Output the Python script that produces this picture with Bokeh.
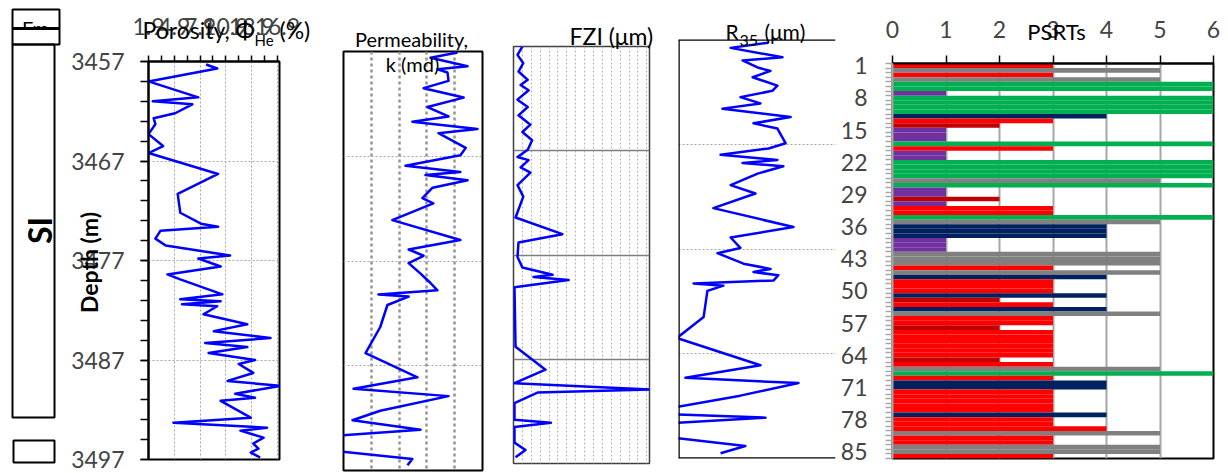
import math
from jinja2 import Template
from bokeh.plotting import figure
from bokeh.models import Range1d, FixedTicker, Span, ColumnDataSource
from bokeh.embed import file_html
from bokeh.resources import INLINE
from bokeh.core.properties import value

FONT = "Lato"
H = 473
W = 1228
BLUE = "#0000FF"

# ---------------- data ----------------
depth_ticks = [3457, 3467, 3477, 3487, 3497]
depth_grid = [3467, 3477, 3487]

poro_ticks = [1.9, 4.9, 7.9, 10.9, 13.9, 16.9]
poro_depth = [3457.3, 3457.7, 3459.0, 3460.6, 3461.0, 3461.3, 3462.2, 3462.7, 3463.3, 3464.3,
              3465.5, 3466.2, 3468.3, 3470.3, 3472.2, 3473.3, 3473.6, 3474.0, 3474.8, 3475.5,
              3476.5, 3476.8, 3477.6, 3478.4, 3478.9, 3480.4, 3480.9, 3481.1, 3481.4, 3481.6,
              3482.4, 3483.4, 3484.1, 3484.8, 3485.3, 3485.7, 3486.3, 3487.0, 3487.4, 3488.3,
              3489.1, 3489.6, 3490.4, 3490.8, 3491.1, 3492.8, 3493.3, 3493.8, 3494.1, 3494.8,
              3495.4, 3495.9, 3496.3, 3496.8]
poro_val = [8.6, 9.9, 1.9, 7.7, 2.4, 7.0, 5.0, 2.5, 2.7, 1.9,
            3.6, 1.9, 10.0, 5.3, 5.6, 8.0, 10.0, 3.3, 2.7, 3.9,
            11.4, 7.7, 10.3, 4.1, 5.6, 10.5, 5.6, 10.3, 5.8, 9.9,
            8.3, 13.4, 9.5, 16.1, 8.5, 13.4, 8.9, 14.3, 12.4, 14.1,
            11.1, 17.2, 12.0, 14.3, 10.3, 13.8, 4.8, 15.7, 12.6, 15.3,
            14.1, 14.7, 13.8, 14.9]

perm_grid = [0.01, 0.1, 1, 10]
perm_depth = [3457.1, 3457.6, 3458.4, 3458.7, 3459.0, 3459.8, 3460.5, 3461.4, 3462.3, 3463.2,
              3463.7, 3464.4, 3464.8, 3466.2, 3466.9, 3467.9, 3468.5, 3468.8, 3469.3, 3470.0,
              3471.0, 3471.5, 3473.1, 3475.0, 3475.9, 3476.5, 3477.2, 3478.2, 3479.1, 3479.8,
              3480.2, 3480.4, 3481.2, 3483.3, 3485.8, 3488.1, 3489.2, 3489.9, 3491.3, 3492.2,
              3493.1, 3493.7, 3495.1, 3495.9, 3496.5]
perm_val = [12.6, 1.35, 29, 2.4, 5.5, 6.0, 0.76, 21, 1.05, 6.0,
            0.30, 66, 2.6, 25, 16, 0.17, 16, 0.89, 29, 1.6,
            0.69, 1.7, 0.057, 16, 0.22, 0.76, 0.22, 0.59, 1.35, 2.4,
            0.018, 0.22, 0.038, 0.021, 0.0062, 0.46, 0.0023, 6.0, 0.021, 0.0021,
            0.59, 0.0004, 0.0004, 0.30, 0.20]

fzi_grid = [1, 2, 3, 4, 5, 6, 7, 8, 9, 10, 11, 12, 13, 14, 15]
fzi_depth = [3457.0, 3457.8, 3458.6, 3459.4, 3460.2, 3460.7, 3461.2, 3462.1, 3462.8, 3463.6,
             3464.5, 3465.2, 3466.0, 3466.9, 3467.6, 3467.9, 3468.6, 3469.1, 3470.3, 3471.4,
             3473.4, 3475.0, 3475.8, 3477.2, 3478.2, 3478.9, 3479.1, 3479.4, 3480.1, 3485.8,
             3488.0, 3489.3, 3489.9, 3490.2, 3491.2, 3492.8, 3493.1, 3493.5, 3495.0, 3495.7,
             3496.4]
fzi_val = [1.0, 0.45, 1.1, 0.56, 1.6, 0.8, 1.7, 0.45, 1.6, 0.56,
           1.9, 1.0, 2.1, 1.6, 0.45, 1.7, 0.8, 1.9, 0.45, 1.1,
           0.23, 5.5, 0.56, 0.45, 1.0, 4.4, 2.25, 6.2, 0.11, 0.23,
           3.6, 0.11, 15.4, 2.7, 0.11, 0.11, 4.2, 0.11, 0.11, 1.35,
           0.23]

r35_depth = [3457.3, 3457.8, 3458.7, 3459.0, 3459.7, 3460.0, 3460.6, 3461.4, 3461.9, 3462.5,
             3463.1, 3463.6, 3464.4, 3465.0, 3465.5, 3466.9, 3467.4, 3468.0, 3468.5, 3468.8,
             3469.1, 3469.8, 3470.9, 3471.7, 3473.1, 3474.9, 3475.9, 3476.9, 3477.4, 3478.4,
             3478.9, 3479.2, 3479.5, 3480.0, 3480.3, 3480.5, 3481.0, 3483.5, 3485.5, 3488.1,
             3489.3, 3489.8, 3491.0, 3492.1, 3492.8, 3493.1, 3493.6, 3495.0, 3495.8, 3496.5]
r35_val = [2.87, 1.66, 3.31, 2.04, 2.55, 2.93, 2.36, 3.15, 2.99, 1.97,
           2.61, 1.40, 3.57, 2.39, 3.15, 3.41, 2.87, 1.34, 3.15, 2.04,
           3.34, 2.52, 1.66, 2.45, 1.11, 3.66, 1.66, 1.97, 1.24, 2.07,
           2.93, 2.39, 3.18, 3.03, 0.48, 1.43, 0.92, 0.80, -0.05, 2.61,
           0.22, 3.82, 1.97, -0.1, -0.1, 2.77, -0.1, -0.2, 2.13, 1.34]

psrt_ticks = [0, 1, 2, 3, 4, 5, 6]
psrt_label_rows = [1, 8, 15, 22, 29, 36, 43, 50, 57, 64, 71, 78, 85]
psrt_values = [3, 5, 3, 5, 6, 6, 1, 6, 6, 6,
               6, 4, 3, 2, 1, 1, 1, 6, 3, 1,
               1, 6, 6, 6, 6, 5, 6, 1, 1, 2,
               1, 3, 3, 6, 5, 4, 4, 4, 1, 1,
               1, 5, 5, 5, 3, 5, 4, 3, 3, 3,
               4, 2, 3, 4, 5, 3, 3, 2, 3, 3,
               3, 3, 3, 3, 2, 3, 5, 6, 3, 4,
               4, 3, 3, 3, 3, 3, 4, 3, 3, 4,
               5, 3, 3, 5, 5, 3]
psrt_class = [3, 5, 3, 5, 6, 6, 1, 6, 6, 6,
              6, 4, 3, 2, 1, 1, 1, 6, 3, 1,
              1, 6, 6, 6, 6, 5, 6, 1, 1, 2,
              1, 3, 3, 6, 5, 4, 4, 4, 1, 1,
              1, 5, 5, 5, 3, 5, 4, 3, 3, 3,
              4, 2, 3, 4, 5, 3, 3, 2, 3, 3,
              3, 3, 3, 3, 2, 3, 5, 6, 3, 4,
              4, 3, 3, 3, 3, 3, 4, 3, 3, 3,
              5, 3, 3, 5, 5, 3]
class_colors = {1: "#7030A0", 2: "#C00000", 3: "#FF0000", 4: "#002060", 5: "#808080", 6: "#00B050"}


# ---------------- helpers ----------------
def base_fig(width, left, right, top, bottom, xr, yr, x_axis_type="linear", xloc=None, yloc=None):
    p = figure(width=width, height=H, x_range=xr, y_range=yr, x_axis_type=x_axis_type,
               x_axis_location=xloc, y_axis_location=yloc, toolbar_location=None,
               output_backend="svg", min_border_left=left, min_border_right=right,
               min_border_top=top, min_border_bottom=bottom)
    p.outline_line_color = None
    p.background_fill_color = "white"
    p.border_fill_color = "white"
    p.xgrid.visible = False
    p.ygrid.visible = False
    return p


def depth_hgrid(p, color="#a6a6a6", dash="2 2", width=1):
    p.ygrid.visible = True
    p.ygrid.ticker = FixedTicker(ticks=depth_grid)
    p.ygrid.grid_line_color = color
    p.ygrid.grid_line_dash = dash
    p.ygrid.grid_line_width = width


def yr():
    return Range1d(depth_ticks[-1], depth_ticks[0])


TICK_FONT = "23px"

# ---------------- panel: porosity (page x 0-320) ----------------
f2 = base_fig(320, 148, 41, 61, 14, Range1d(1.9, 17.15), yr(), xloc="above", yloc="left")
f2.outline_line_color = "black"
f2.outline_line_width = 2
xa = f2.xaxis[0]
xa.ticker = FixedTicker(ticks=poro_ticks,
                        minor_ticks=[(a + b) / 2 for a, b in zip(poro_ticks[:-1], poro_ticks[1:])])
xa.major_label_text_font = FONT
xa.major_label_text_font_size = TICK_FONT
xa.major_label_standoff = 21
xa.major_tick_out = 6
xa.major_tick_in = 0
xa.minor_tick_out = 6
xa.minor_tick_in = 0
xa.axis_line_width = 2
xa.major_tick_line_width = 1.5
xa.minor_tick_line_width = 1.5
ya = f2.yaxis[0]
ya.ticker = FixedTicker(ticks=depth_ticks,
                        minor_ticks=list(range(depth_ticks[0], depth_ticks[-1] + 1, 2)))
ya.major_label_text_font = FONT
ya.major_label_text_font_size = TICK_FONT
ya.major_label_standoff = 16
ya.major_tick_out = 8
ya.major_tick_in = 0
ya.minor_tick_out = 8
ya.minor_tick_in = 0
ya.axis_line_width = 2
ya.major_tick_line_width = 1.5
ya.minor_tick_line_width = 1.5
f2.xgrid.visible = True
f2.xgrid.ticker = FixedTicker(ticks=poro_ticks[1:])
f2.xgrid.grid_line_color = "#a6a6a6"
f2.xgrid.grid_line_dash = "2 2"
depth_hgrid(f2)
f2.line(poro_val, poro_depth, line_color=BLUE, line_width=2.5, line_join="round")

# ---------------- panel: permeability (page x 320-500) ----------------
f3 = base_fig(180, 23, 18, 51, 3, Range1d(0.001, 100), yr(), x_axis_type="log")
f3.outline_line_color = "black"
f3.outline_line_width = 2
f3.xgrid.visible = True
f3.xgrid.ticker = FixedTicker(ticks=perm_grid)
f3.xgrid.grid_line_color = "#959595"
f3.xgrid.grid_line_width = 2.5
f3.xgrid.grid_line_dash = "3 3"
depth_hgrid(f3)
f3.line(perm_val, perm_depth, line_color=BLUE, line_width=2.5, line_join="round")

# ---------------- panel: FZI (page x 500-665) ----------------
f4 = base_fig(165, 13, 16, 46, 10, Range1d(0, 15.3), yr())
f4.outline_line_color = "#404040"
f4.outline_line_width = 1.5
f4.xgrid.visible = True
f4.xgrid.ticker = FixedTicker(ticks=fzi_grid)
f4.xgrid.grid_line_color = "#b4b4b4"
f4.xgrid.grid_line_dash = "2 2"
depth_hgrid(f4, color="#808080", dash="solid", width=1.5)
f4.line(fzi_val, fzi_depth, line_color=BLUE, line_width=2.5, line_join="round")

# ---------------- panel: R35 (page x 665-837) ----------------
f5 = base_fig(172, 13, 2, 39, 15, Range1d(0, 5), yr())
depth_hgrid(f5)
f5.line(r35_val, r35_depth, line_color=BLUE, line_width=2.5, line_join="round")
for loc, dim in ((0, "height"), (depth_ticks[0], "width"), (depth_ticks[-1], "width")):
    f5.add_layout(Span(location=loc, dimension=dim, line_color="black", line_width=2.5))

# ---------------- panel: PSRTs (page x 837-1228) ----------------
n = len(psrt_values)
f6 = base_fig(391, 54, 15, 63, 15, Range1d(psrt_ticks[0], psrt_ticks[-1]), Range1d(n + 0.5, 0.5),
              xloc="above", yloc="left")
f6.outline_line_color = "black"
f6.outline_line_width = 2
src = ColumnDataSource(dict(row=list(range(1, n + 1)), val=psrt_values,
                            color=[class_colors[c] for c in psrt_class]))
f6.xgrid.visible = True
f6.xgrid.ticker = FixedTicker(ticks=psrt_ticks[1:-1])
f6.xgrid.grid_line_color = "#a6a6a6"
f6.xgrid.grid_line_width = 2
f6.hbar(y="row", left=0, right="val", height=1.0, fill_color="color", line_color=None, source=src)
xa6 = f6.xaxis[0]
xa6.ticker = FixedTicker(ticks=psrt_ticks)
xa6.major_label_text_font = FONT
xa6.major_label_text_font_size = TICK_FONT
xa6.major_label_standoff = 18
xa6.major_tick_out = 8
xa6.major_tick_in = 0
xa6.axis_line_width = 2
xa6.major_tick_line_width = 1.5
ya6 = f6.yaxis[0]
ya6.ticker = FixedTicker(ticks=psrt_label_rows, minor_ticks=[i + 0.5 for i in range(0, n + 1)])
ya6.major_label_text_font = FONT
ya6.major_label_text_font_size = TICK_FONT
ya6.major_label_standoff = 18
ya6.major_tick_out = 7
ya6.major_tick_in = 0
ya6.major_tick_line_color = None
ya6.minor_tick_out = 7
ya6.minor_tick_in = 0
ya6.minor_tick_line_color = "#a6a6a6"
ya6.minor_tick_line_width = 1.5
ya6.axis_line_color = "#a6a6a6"
ya6.axis_line_width = 2

# ---------------- overlay: formation column and panel titles (page pixels) ----------------
ov = figure(width=W, height=H, x_range=Range1d(0, W), y_range=Range1d(H, 0),
            x_axis_location=None, y_axis_location=None, toolbar_location=None,
            output_backend="svg", min_border=0)
ov.grid.visible = False
ov.outline_line_color = None
ov.background_fill_alpha = 0
ov.border_fill_alpha = 0


def otext(x, y, t, size, align="left", angle=0.0, bold=False):
    ov.text(x=[x], y=[y], text=[t], text_font=value(FONT), text_font_size=f"{size}px",
            text_align=align, text_baseline="middle", angle=angle,
            text_font_style="bold" if bold else "normal", text_color="black")


otext(35, 27, "Fm", 20, align="center")
ov.quad(left=[12], right=[59], top=[29.5], bottom=[44], fill_color="white", line_color=None)
ov.segment(x0=[12], y0=[28], x1=[59], y1=[28], line_color="black", line_width=3)
ov.quad(left=[12, 12, 13], right=[59, 54, 54], top=[9, 44, 440], bottom=[44, 417, 462],
        fill_color=None, line_color="black", line_width=2)
otext(39, 230, "SI", 32, align="center", angle=math.pi / 2, bold=True)

otext(88, 262, "Depth (m)", 23, align="center", angle=math.pi / 2, bold=True)
otext(142, 29.5, "Porosity, Φ", 23)
otext(254, 39, "He", 15)
otext(279, 29.5, "(%)", 23)
otext(411, 38.5, "Permeability,", 20, align="center")
otext(412, 63.5, "k (md)", 20, align="center")
otext(611, 35.5, "FZI (μm)", 23, align="center")
otext(725, 31, "R", 21)
otext(739, 39.5, "35", 16)
otext(764, 31, "(μm)", 21)
otext(1056, 30.5, "PSRTs", 22, align="center")

TEMPLATE = Template("""<!DOCTYPE html>
<html lang="en">
<head>
<meta charset="utf-8">
<title>Well log panels</title>
{{ bokeh_css }}
{{ bokeh_js }}
<style>html, body { margin: 0; padding: 0; overflow: hidden; background: white; }</style>
</head>
<body>
<div style="position: relative; width: 1228px; height: 473px;">
  <div style="position: absolute; left: 0; top: 0; display: flex; flex-direction: row;">
  {% for root in roots %}{% if not loop.last %}<div id="{{ root.elementid }}" data-root-id="{{ root.id }}" style="display: contents;"></div>{% endif %}{% endfor %}
  </div>
  <div style="position: absolute; left: 0; top: 0;">
  {% for root in roots %}{% if loop.last %}<div id="{{ root.elementid }}" data-root-id="{{ root.id }}" style="display: contents;"></div>{% endif %}{% endfor %}
  </div>
</div>
{{ plot_script }}
</body>
</html>
""")

p = [f2, f3, f4, f5, f6, ov]
open("out.html", "w").write(file_html(p, INLINE, template=TEMPLATE))
